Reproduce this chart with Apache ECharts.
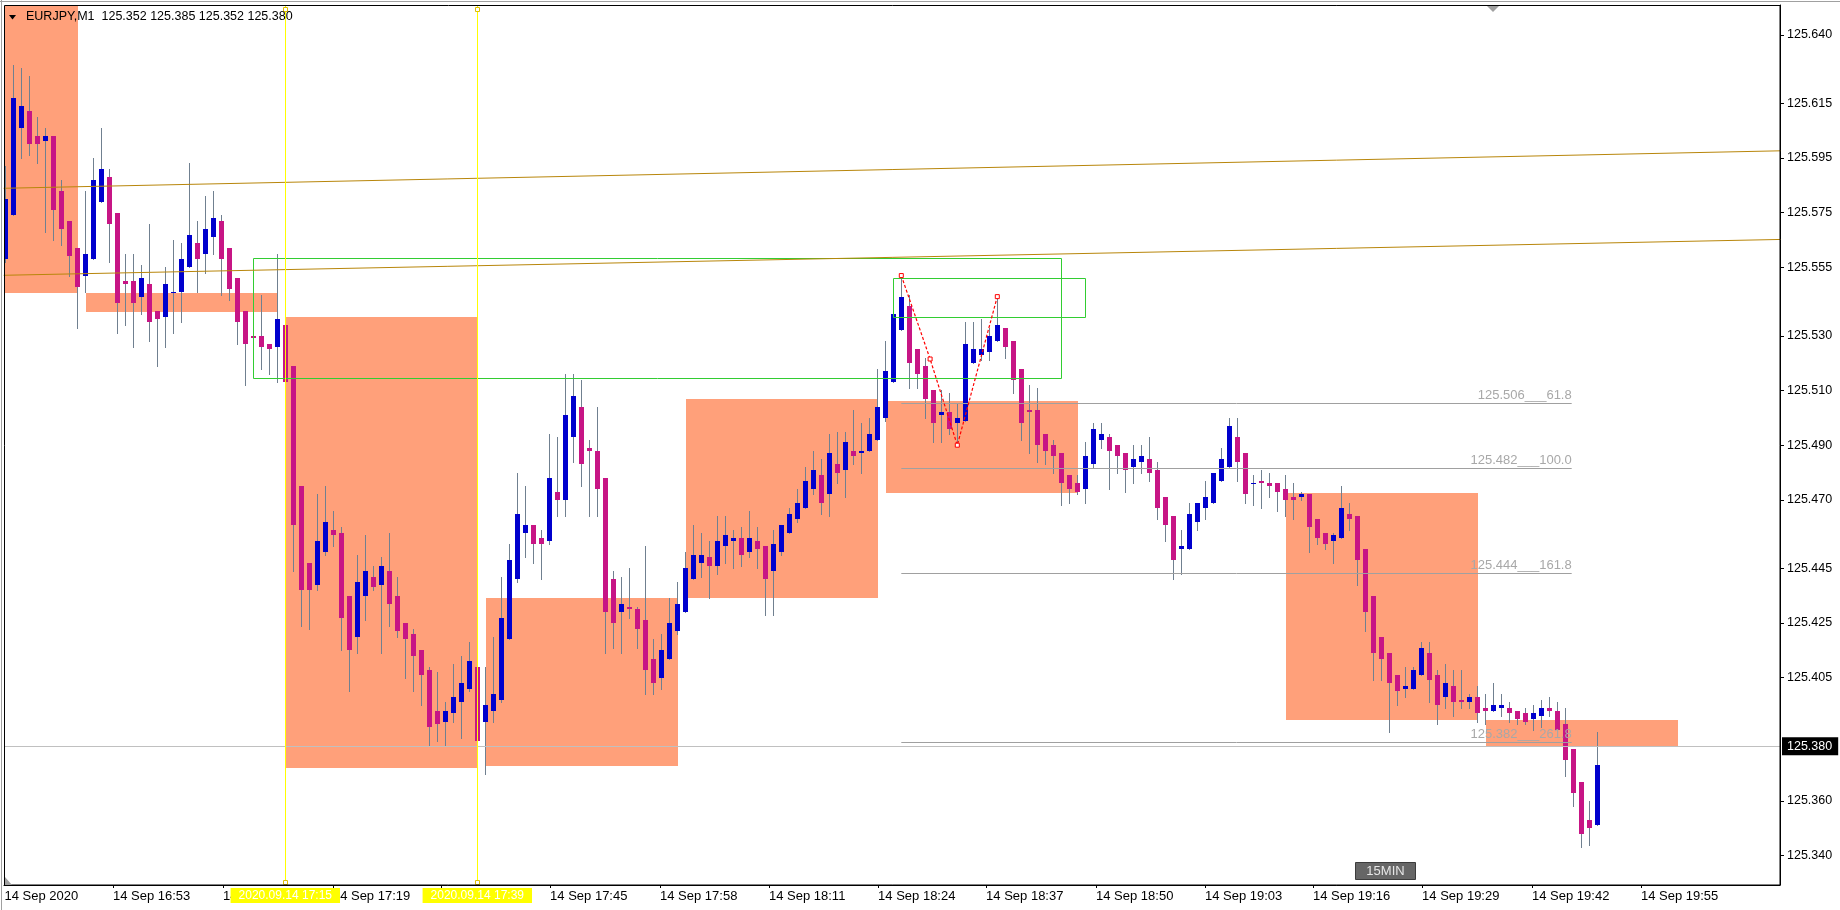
<!DOCTYPE html>
<html><head><meta charset="utf-8">
<script src="https://cdn.jsdelivr.net/npm/echarts@6/dist/echarts.min.js"></script>
<style>html,body{margin:0;padding:0;background:#fff}#c{width:1840px;height:910px}</style>
</head><body><div id="c"></div><script>
// ---------- DATA ----------
const headerText = 'EURJPY,M1  125.352 125.385 125.352 125.380';
const candleOpen = [
125.558,125.574,125.606,125.612,125.603,125.601,125.603,125.583,125.572,125.562,
125.552,125.558,125.579,125.588,125.575,125.550,125.550,125.544,125.549,125.539,
125.537,125.546,125.546,125.555,125.564,125.560,125.566,125.572,125.562,125.551,
125.539,125.530,125.530,125.527,125.526,125.534,125.519,125.475,125.447,125.439,
125.451,125.459,125.458,125.435,125.420,125.435,125.442,125.439,125.444,125.435,
125.425,125.421,125.415,125.408,125.393,125.389,125.392,125.396,125.401,125.409,
125.389,125.393,125.397,125.419,125.441,125.458,125.461,125.456,125.455,125.473,
125.470,125.493,125.504,125.489,125.488,125.478,125.441,125.429,125.431,125.430,
125.426,125.412,125.405,125.412,125.422,125.429,125.441,125.447,125.449,125.446,
125.453,125.455,125.456,125.451,125.455,125.453,125.444,125.451,125.458,125.463,
125.467,125.474,125.479,125.472,125.483,125.481,125.488,125.487,125.488,125.492,
125.500,125.513,125.532,125.541,125.525,125.519,125.510,125.501,125.502,125.498,
125.499,125.520,125.523,125.524,125.528,125.533,125.528,125.518,125.503,125.503,
125.494,125.490,125.487,125.479,125.476,125.474,125.483,125.492,125.493,125.490,
125.487,125.482,125.484,125.485,125.481,125.471,125.464,125.452,125.452,125.462,
125.467,125.469,125.477,125.482,125.493,125.487,125.476,125.477,125.476,125.476,
125.474,125.471,125.471,125.472,125.463,125.458,125.455,125.456,125.465,125.464,
125.452,125.435,125.420,125.414,125.406,125.401,125.401,125.406,125.414,125.406,
125.398,125.402,125.397,125.396,125.398,125.394,125.393,125.394,125.394,125.393,
125.392,125.390,125.391,125.394,125.393,125.388,125.379,125.367,125.353,125.351];
const candleHigh = [
125.592,125.629,125.628,125.625,125.610,125.606,125.603,125.587,125.572,125.562,
125.583,125.595,125.606,125.591,125.575,125.560,125.560,125.556,125.571,125.539,
125.555,125.565,125.564,125.593,125.572,125.581,125.583,125.574,125.562,125.551,
125.539,125.531,125.545,125.527,125.560,125.534,125.519,125.475,125.447,125.472,
125.475,125.466,125.460,125.435,125.450,125.457,125.446,125.449,125.458,125.442,
125.425,125.423,125.415,125.409,125.407,125.396,125.410,125.413,125.418,125.409,
125.409,125.420,125.442,125.454,125.480,125.475,125.461,125.459,125.494,125.493,
125.516,125.516,125.514,125.492,125.504,125.478,125.444,125.442,125.445,125.431,
125.453,125.419,125.421,125.434,125.440,125.451,125.461,125.458,125.455,125.464,
125.464,125.459,125.460,125.466,125.460,125.453,125.459,125.461,125.467,125.474,
125.482,125.488,125.485,125.494,125.495,125.495,125.503,125.498,125.500,125.518,
125.528,125.538,125.552,125.545,125.525,125.522,125.510,125.510,125.509,125.505,
125.535,125.535,125.536,125.533,125.545,125.533,125.528,125.518,125.512,125.511,
125.494,125.492,125.487,125.479,125.479,125.491,125.498,125.498,125.494,125.490,
125.487,125.490,125.490,125.493,125.484,125.471,125.464,125.459,125.469,125.469,
125.477,125.480,125.489,125.500,125.500,125.487,125.479,125.481,125.480,125.476,
125.479,125.476,125.473,125.472,125.463,125.458,125.458,125.475,125.469,125.464,
125.452,125.435,125.420,125.414,125.406,125.409,125.409,125.418,125.418,125.408,
125.410,125.408,125.408,125.399,125.402,125.399,125.403,125.399,125.396,125.393,
125.394,125.395,125.397,125.398,125.396,125.394,125.379,125.367,125.360,125.385];
const candleLow = [
125.557,125.574,125.595,125.596,125.593,125.568,125.565,125.563,125.552,125.533,
125.546,125.558,125.579,125.557,125.531,125.534,125.526,125.538,125.528,125.519,
125.526,125.531,125.535,125.555,125.546,125.553,125.560,125.545,125.543,125.527,
125.512,125.525,125.518,125.516,125.513,125.513,125.444,125.424,125.423,125.437,
125.450,125.453,125.415,125.400,125.414,125.426,125.437,125.414,125.424,125.420,
125.405,125.400,125.395,125.380,125.382,125.380,125.389,125.383,125.400,125.380,
125.370,125.389,125.396,125.419,125.440,125.449,125.447,125.441,125.454,125.464,
125.464,125.484,125.475,125.464,125.464,125.414,125.416,125.414,125.427,125.416,
125.399,125.399,125.401,125.412,125.421,125.429,125.441,125.442,125.434,125.443,
125.447,125.445,125.446,125.449,125.445,125.428,125.428,125.450,125.458,125.462,
125.467,125.472,125.465,125.464,125.476,125.471,125.483,125.480,125.488,125.492,
125.499,125.513,125.532,125.511,125.511,125.500,125.491,125.491,125.494,125.490,
125.499,125.520,125.521,125.521,125.528,125.522,125.509,125.492,125.487,125.484,
125.483,125.480,125.468,125.469,125.472,125.469,125.482,125.489,125.474,125.480,
125.473,125.476,125.480,125.477,125.463,125.455,125.441,125.443,125.452,125.459,
125.463,125.469,125.477,125.482,125.477,125.469,125.468,125.467,125.471,125.466,
125.464,125.463,125.470,125.451,125.454,125.452,125.447,125.456,125.459,125.439,
125.422,125.404,125.404,125.385,125.395,125.398,125.401,125.406,125.396,125.388,
125.394,125.391,125.394,125.394,125.389,125.388,125.393,125.391,125.389,125.388,
125.388,125.386,125.387,125.391,125.386,125.369,125.358,125.343,125.344,125.351];
const candleClose = [
125.580,125.617,125.614,125.600,125.600,125.603,125.576,125.569,125.559,125.548,
125.560,125.587,125.591,125.571,125.542,125.549,125.542,125.551,125.535,125.536,
125.549,125.546,125.558,125.567,125.558,125.569,125.573,125.558,125.547,125.535,
125.527,125.529,125.526,125.525,125.536,125.513,125.461,125.437,125.437,125.455,
125.462,125.457,125.427,125.415,125.440,125.444,125.438,125.446,125.432,125.422,
125.419,125.413,125.406,125.387,125.388,125.393,125.398,125.403,125.411,125.382,
125.395,125.399,125.427,125.448,125.465,125.461,125.454,125.454,125.478,125.470,
125.501,125.508,125.483,125.488,125.474,125.429,125.425,125.432,125.430,125.423,
125.408,125.403,125.415,125.425,125.432,125.445,125.450,125.450,125.446,125.455,
125.457,125.456,125.450,125.456,125.452,125.441,125.454,125.461,125.465,125.469,
125.477,125.481,125.469,125.487,125.480,125.491,125.486,125.488,125.494,125.504,
125.517,125.538,125.544,125.520,125.516,125.507,125.498,125.502,125.496,125.500,
125.527,125.525,125.525,125.530,125.534,125.526,125.514,125.498,125.502,125.490,
125.488,125.486,125.476,125.474,125.473,125.486,125.496,125.494,125.488,125.486,
125.481,125.485,125.486,125.480,125.467,125.461,125.448,125.453,125.465,125.469,
125.471,125.480,125.485,125.497,125.484,125.472,125.476,125.476,125.475,125.473,
125.470,125.470,125.472,125.460,125.456,125.454,125.457,125.467,125.463,125.448,
125.429,125.414,125.412,125.403,125.400,125.402,125.408,125.416,125.404,125.395,
125.403,125.396,125.396,125.398,125.392,125.393,125.395,125.395,125.392,125.390,
125.389,125.392,125.394,125.393,125.386,125.375,125.363,125.348,125.350,125.373];

const xTickPos = [-0.1,13.46,27.2,40.95,54.46,68.1,81.84,95.46,109.1,122.6,136.34,149.96,163.46,177.1,190.84,204.46];
const xTickLabels = ['14 Sep 2020','14 Sep 16:53','14 Sep 17:06','14 Sep 17:19','14 Sep 17:32','14 Sep 17:45','14 Sep 17:58','14 Sep 18:11','14 Sep 18:24','14 Sep 18:37','14 Sep 18:50','14 Sep 19:03','14 Sep 19:16','14 Sep 19:29','14 Sep 19:42','14 Sep 19:55'];
const yTickValues = [125.640,125.615,125.595,125.575,125.555,125.530,125.510,125.490,125.470,125.445,125.425,125.405,125.360,125.340];
const currentPrice = 125.380;

// orange range boxes
const boxStart  = [-0.04, 10, 35, 60, 85, 110, 160, 185];
const boxEnd    = [9, 34, 59, 84, 109, 134, 184, 209];
const boxTop    = [125.660, 125.5457, 125.537, 125.434, 125.507, 125.506, 125.4725, 125.3897];
const boxBottom = [125.5457, 125.5388, 125.372, 125.3727, 125.434, 125.4726, 125.3897, 125.3797];

// green rectangles
const rectStart  = [31, 111];
const rectEnd    = [132, 135];
const rectTop    = [125.5583, 125.5510];
const rectBottom = [125.5144, 125.5367];

// gold trend lines
const trendStartBar   = [-0.2, -0.2];
const trendStartPrice = [125.5839, 125.5521];
const trendEndBar     = [221.9, 221.9];
const trendEndPrice   = [125.5976, 125.5652];

// vertical lines
const vlineBars   = [35, 59];
const vlineLabels = ['2020.09.14 17:15', '2020.09.14 17:39'];

// fibonacci
const fibStartBar = 112;
const fibEndBar   = 195.8;
const fibPrices   = [125.5053, 125.4816, 125.4432, 125.3814];
const fibTexts    = ['125.506___61.8', '125.482___100.0', '125.444___161.8', '125.382___261.8'];

// zigzag
const zigBars   = [112, 115.6, 119, 124];
const zigPrices = [125.552, 125.5215, 125.490, 125.5443];

// ---------- CHART ----------
const X_MIN = -0.1625, X_MAX = 221.8375;
const Y_MIN = 125.32925, Y_MAX = 125.65089;
const BULL = '#0000cd', BEAR = '#c71585', WICK = '#708090';
const FONT = '"Liberation Sans", Arial, sans-serif';

const chart = echarts.init(document.getElementById('c'), null, {renderer: 'canvas'});

const candleData = candleOpen.map((o, i) => [i, o, candleHigh[i], candleLow[i], candleClose[i]]);
const boxData = boxStart.map((s, i) => [s, boxEnd[i], boxTop[i], boxBottom[i]]);
const rectData = rectStart.map((s, i) => [s, rectEnd[i], rectTop[i], rectBottom[i]]);
const fibData = fibPrices.map((p, i) => [fibStartBar, fibEndBar, p, i]);

const option = {
  animation: false,
  backgroundColor: '#fff',
  grid: {left: 4, right: 60, top: 5, bottom: 25, show: false, containLabel: false, outerBoundsMode: 'none'},
  xAxis: [{
    type: 'value', min: X_MIN, max: X_MAX, position: 'bottom',
    axisLine: {show: true, onZero: false, lineStyle: {color: '#000', width: 1}},
    axisTick: {show: true, customValues: xTickPos.slice(1), length: 3, lineStyle: {color: '#000'}},
    axisLabel: {customValues: xTickPos, hideOverlap: false, align: 'left', margin: 5, color: '#000',
      fontFamily: FONT, fontSize: 13,
      formatter: v => { const i = xTickPos.findIndex(p => Math.abs(p - v) < 1e-6); return i >= 0 ? xTickLabels[i] : ''; }},
    splitLine: {show: false}
  }, {
    type: 'value', min: X_MIN, max: X_MAX, position: 'bottom', z: 5,
    axisLine: {show: false}, axisTick: {show: false}, splitLine: {show: false},
    axisLabel: {customValues: vlineBars, hideOverlap: false, align: 'center', margin: 3, color: '#fff',
      backgroundColor: '#ffff00', padding: [2, 8, 1, 8], fontFamily: FONT, fontSize: 12,
      formatter: v => vlineLabels[vlineBars.indexOf(Math.round(v))] || ''}
  }],
  yAxis: [{
    type: 'value', min: Y_MIN, max: Y_MAX, position: 'right', scale: true,
    axisLine: {show: true, onZero: false, lineStyle: {color: '#000', width: 1}},
    axisTick: {show: true, customValues: yTickValues, length: 4, lineStyle: {color: '#000'}},
    axisLabel: {customValues: yTickValues, hideOverlap: false, margin: 7, color: '#000',
      fontFamily: FONT, fontSize: 12.5, formatter: v => v.toFixed(3)},
    splitLine: {show: false}
  }, {
    type: 'value', min: Y_MIN, max: Y_MAX, position: 'right', scale: true, z: 5,
    axisLine: {show: false}, axisTick: {show: false}, splitLine: {show: false},
    axisLabel: {customValues: [currentPrice], hideOverlap: false, margin: 2, color: '#fff',
      backgroundColor: '#000', padding: [3, 6, 2, 5], fontFamily: FONT, fontSize: 12.5,
      formatter: v => v.toFixed(3)}
  }],
  series: [
    { // orange boxes
      type: 'custom', z: 1, clip: true, data: boxData, encode: {x: [0, 1], y: [2, 3]},
      renderItem: (params, api) => {
        const a = api.coord([api.value(0), api.value(2)]);
        const b = api.coord([api.value(1), api.value(3)]);
        const x1 = Math.round(a[0] + 0.4), x2 = Math.round(b[0] + 0.4);
        const y1 = Math.round(a[1]), y2 = Math.round(b[1]);
        return {type: 'rect', shape: {x: x1, y: y1, width: x2 - x1, height: y2 - y1},
          style: {fill: '#ffa07a'}};
      }
    },
    { // candles
      type: 'custom', z: 2, clip: true, data: candleData, encode: {x: 0, y: [1, 2, 3, 4]},
      renderItem: (params, api) => {
        const i = api.value(0), o = api.value(1), h = api.value(2), l = api.value(3), c = api.value(4);
        const pO = api.coord([i, o]), pC = api.coord([i, c]), pH = api.coord([i, h]), pL = api.coord([i, l]);
        const x = Math.floor(pO[0]) + 0.5;
        const top = Math.round(Math.min(pO[1], pC[1])), bot = Math.round(Math.max(pO[1], pC[1]));
        const bh = Math.max(1, bot - top);
        return {type: 'group', children: [
          {type: 'line', shape: {x1: x, y1: Math.round(pH[1]), x2: x, y2: Math.round(pL[1]) + 1},
            style: {stroke: WICK, lineWidth: 1}},
          {type: 'rect', shape: {x: x - 2.5, y: top, width: 5, height: bh},
            style: {fill: c >= o ? BULL : BEAR}}
        ]};
      }
    },
    { // current price line
      type: 'custom', z: 3, clip: true, data: [[X_MIN, currentPrice]], encode: {x: 0, y: 1},
      renderItem: (params, api) => {
        const cs = params.coordSys;
        const y = Math.round(api.coord([0, api.value(1)])[1]) + 0.5;
        return {type: 'line', shape: {x1: cs.x, y1: y, x2: cs.x + cs.width, y2: y},
          style: {stroke: '#c0c0c0', lineWidth: 1}};
      }
    },
    { // fibonacci levels
      type: 'custom', z: 4, clip: true, data: fibData, encode: {x: [0, 1], y: 2},
      renderItem: (params, api) => {
        const a = api.coord([api.value(0), api.value(2)]);
        const b = api.coord([api.value(1), api.value(2)]);
        const y = Math.round(a[1]) + 0.5;
        return {type: 'group', children: [
          {type: 'line', shape: {x1: a[0], y1: y, x2: b[0], y2: y}, style: {stroke: '#a0a0a0', lineWidth: 1}},
          {type: 'text', style: {text: fibTexts[api.value(3)], x: b[0], y: y - 2, align: 'right',
            verticalAlign: 'bottom', fill: '#a8a8a8', font: '13px ' + FONT}}
        ]};
      }
    },
    { // green rectangles
      type: 'custom', z: 4, clip: true, data: rectData, encode: {x: [0, 1], y: [2, 3]},
      renderItem: (params, api) => {
        const a = api.coord([api.value(0), api.value(2)]);
        const b = api.coord([api.value(1), api.value(3)]);
        const x1 = Math.floor(a[0]) + 0.5, x2 = Math.floor(b[0]) + 0.5;
        const y1 = Math.round(a[1]) + 0.5, y2 = Math.round(b[1]) + 0.5;
        return {type: 'rect', shape: {x: x1, y: y1, width: x2 - x1, height: y2 - y1},
          style: {fill: null, stroke: '#32cd32', lineWidth: 1}};
      }
    },
    ...trendStartBar.map((s, i) => ({
      type: 'line', z: 4, clip: true, showSymbol: false, silent: true,
      data: [[s, trendStartPrice[i]], [trendEndBar[i], trendEndPrice[i]]],
      lineStyle: {color: '#b8860b', width: 1}
    })),
    { // zigzag
      type: 'line', z: 5, clip: true, silent: true,
      data: zigBars.map((b, i) => [b, zigPrices[i]]),
      symbol: 'rect', symbolSize: 4, showSymbol: true,
      itemStyle: {color: '#fff', borderColor: '#ff0000', borderWidth: 1},
      lineStyle: {color: '#ff0000', width: 1.2, type: [3, 2]}
    },
    { // vertical lines + handles
      type: 'custom', z: 6, clip: false, data: vlineBars.map(b => [b, Y_MIN]), encode: {x: 0, y: 1},
      renderItem: (params, api) => {
        const cs = params.coordSys;
        const x = Math.floor(api.coord([api.value(0), Y_MIN])[0]) + 0.5;
        return {type: 'group', children: [
          {type: 'line', shape: {x1: x, y1: cs.y, x2: x, y2: cs.y + cs.height}, style: {stroke: '#ffff00', lineWidth: 1}},
          {type: 'rect', shape: {x: x - 2, y: cs.y + 2.5, width: 4, height: 4}, style: {fill: '#fff', stroke: '#e0c000', lineWidth: 1}},
          {type: 'rect', shape: {x: x - 2, y: cs.y + cs.height - 4.5, width: 4, height: 4}, style: {fill: '#fff', stroke: '#e0c000', lineWidth: 1}}
        ]};
      }
    }
  ],
  graphic: [
    {type: 'rect', silent: true, z: 100, shape: {x: 4.5, y: 5.5, width: 1775.5, height: 879.5},
      style: {fill: null, stroke: '#000', lineWidth: 1}},
    {type: 'line', silent: true, z: 100, shape: {x1: 0, y1: 1.5, x2: 1840, y2: 1.5}, style: {stroke: '#a0a0a0', lineWidth: 1}},
    {type: 'line', silent: true, z: 100, shape: {x1: 1.5, y1: 0, x2: 1.5, y2: 910}, style: {stroke: '#a0a0a0', lineWidth: 1}},
    {type: 'polygon', silent: true, z: 100, shape: {points: [[9, 15], [16, 15], [12.5, 19.5]]}, style: {fill: '#000'}},
    {type: 'text', silent: true, z: 100, x: 26, y: 17,
      style: {text: headerText, font: '12.5px ' + FONT, fill: '#000', verticalAlign: 'middle'}},
    {type: 'polygon', silent: true, z: 100, shape: {points: [[1487, 6], [1499, 6], [1493, 12]]}, style: {fill: '#a0a0a0'}},
    {type: 'polygon', silent: true, z: 100, shape: {points: [[5, 877], [5, 885], [12, 885]]}, style: {fill: '#a0a0a0'}},
    {type: 'group', silent: true, z: 100, x: 1355, y: 862, children: [
      {type: 'rect', shape: {x: 0.5, y: 0.5, width: 60, height: 17}, style: {fill: '#666', stroke: '#3c3c3c', lineWidth: 1}},
      {type: 'text', x: 30.5, y: 9.5, style: {text: '15MIN', font: '13px ' + FONT, fill: '#e6e6e6', align: 'center', verticalAlign: 'middle'}}
    ]}
  ]
};
chart.setOption(option);
</script></body></html>
